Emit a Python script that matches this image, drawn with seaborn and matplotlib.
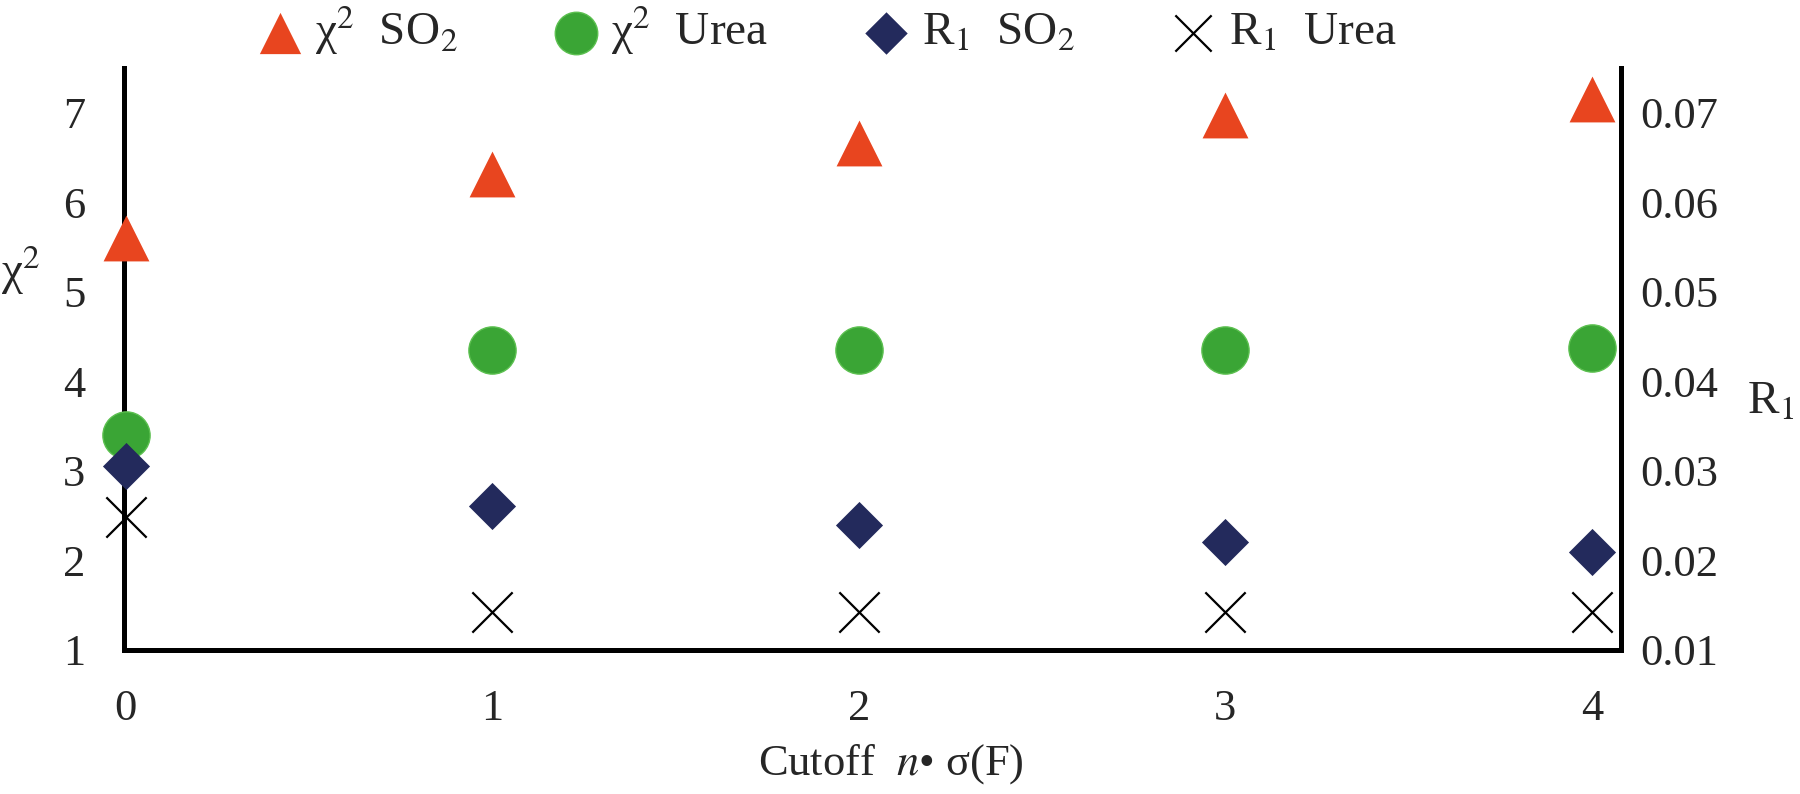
import pandas as pd
import matplotlib.pyplot as plt
import seaborn as sns

# values
cutoff = [0, 1, 2, 3, 4]
chi2_so2 = [5.60, 6.32, 6.66, 6.98, 7.15]
chi2_urea = [3.40, 4.35, 4.35, 4.35, 4.37]
r1_so2 = [0.0306, 0.0261, 0.0240, 0.0221, 0.0209]
r1_urea = [0.0248, 0.0142, 0.0142, 0.0142, 0.0142]

left_ticks = [1, 2, 3, 4, 5, 6, 7]
right_ticks = [0.01, 0.02, 0.03, 0.04, 0.05, 0.06, 0.07]
right_labels = ['0.01', '0.02', '0.03', '0.04', '0.05', '0.06', '0.07']

df = pd.DataFrame({'n': cutoff, 'chi2_so2': chi2_so2, 'chi2_urea': chi2_urea,
                   'r1_so2': r1_so2, 'r1_urea': r1_urea})

sns.set_style('white')
plt.rcParams['font.family'] = ['Liberation Serif', 'DejaVu Serif']
plt.rcParams['mathtext.fontset'] = 'stix'

FS = 32
RED = '#E8451F'
GREEN = '#3AA535'
NAVY = '#232A5C'

fig = plt.figure(figsize=(18, 7.94), dpi=100)
ax = fig.add_axes([0.0689, 0.1814, 0.8317, 0.733])
ax2 = ax.twinx()

sns.scatterplot(data=df, x='n', y='chi2_so2', ax=ax, marker='^', s=33**2,
                color=RED, edgecolor=RED, linewidth=0, zorder=3, clip_on=False,
                label='χ$^2$  SO$_2$', legend=False)
sns.scatterplot(data=df, x='n', y='chi2_urea', ax=ax, marker='o', s=34**2,
                color=GREEN, edgecolor='#5CC050', linewidth=1, zorder=3, clip_on=False,
                label='χ$^2$  Urea', legend=False)
sns.scatterplot(data=df, x='n', y='r1_so2', ax=ax2, marker='D', s=24**2,
                color=NAVY, edgecolor=NAVY, linewidth=0, zorder=3, clip_on=False,
                label='R$_1$  SO$_2$', legend=False)
sns.scatterplot(data=df, x='n', y='r1_urea', ax=ax2, marker='x', s=29**2,
                color='black', linewidth=1.6, zorder=3, clip_on=False,
                label='R$_1$  Urea', legend=False)

ax.set_xlim(-0.005, 4.08)
ax.set_ylim(1, 7.5)
ax2.set_ylim(0.01, 0.075)

ax.set_xticks(cutoff)
ax.set_xticklabels([str(c) for c in cutoff])
ax.set_yticks(left_ticks)
ax.set_yticklabels([str(t) for t in left_ticks])
ax2.set_yticks(right_ticks)
ax2.set_yticklabels(right_labels)

ax.tick_params(axis='x', length=0, pad=28, labelsize=FS)
ax.tick_params(axis='y', length=0, pad=28, labelsize=FS)
ax2.tick_params(axis='y', length=0, pad=14, labelsize=FS)

for a in (ax, ax2):
    for side in ['top', 'left', 'right', 'bottom']:
        a.spines[side].set_visible(False)
    a.grid(False)
for side in ['left', 'bottom']:
    ax.spines[side].set_visible(True)
    ax.spines[side].set_linewidth(3.6)
    ax.spines[side].set_color('black')
ax2.spines['right'].set_visible(True)
ax2.spines['right'].set_linewidth(3.6)
ax2.spines['right'].set_color('black')

ax.set_xlabel('Cutoff  $n$• σ(F)', fontsize=FS)
ax.xaxis.set_label_coords(0.512, -0.158)
ax.set_ylabel('χ$^2$', fontsize=FS + 2, rotation=0)
ax.yaxis.set_label_coords(-0.069, 0.607)
ax2.set_ylabel('R$_1$', fontsize=FS + 2, rotation=0)
ax2.yaxis.set_label_coords(1.10, 0.462)

h1, l1 = ax.get_legend_handles_labels()
h2, l2 = ax2.get_legend_handles_labels()
fig.legend(h1 + h2, l1 + l2, loc='center', bbox_to_anchor=(0.459, 0.962),
           ncol=4, frameon=False, fontsize=FS + 2, markerscale=0.9,
           handletextpad=0.25, columnspacing=2.0, handlelength=1.0)

fig.savefig('out.png', dpi=100, facecolor='white')
